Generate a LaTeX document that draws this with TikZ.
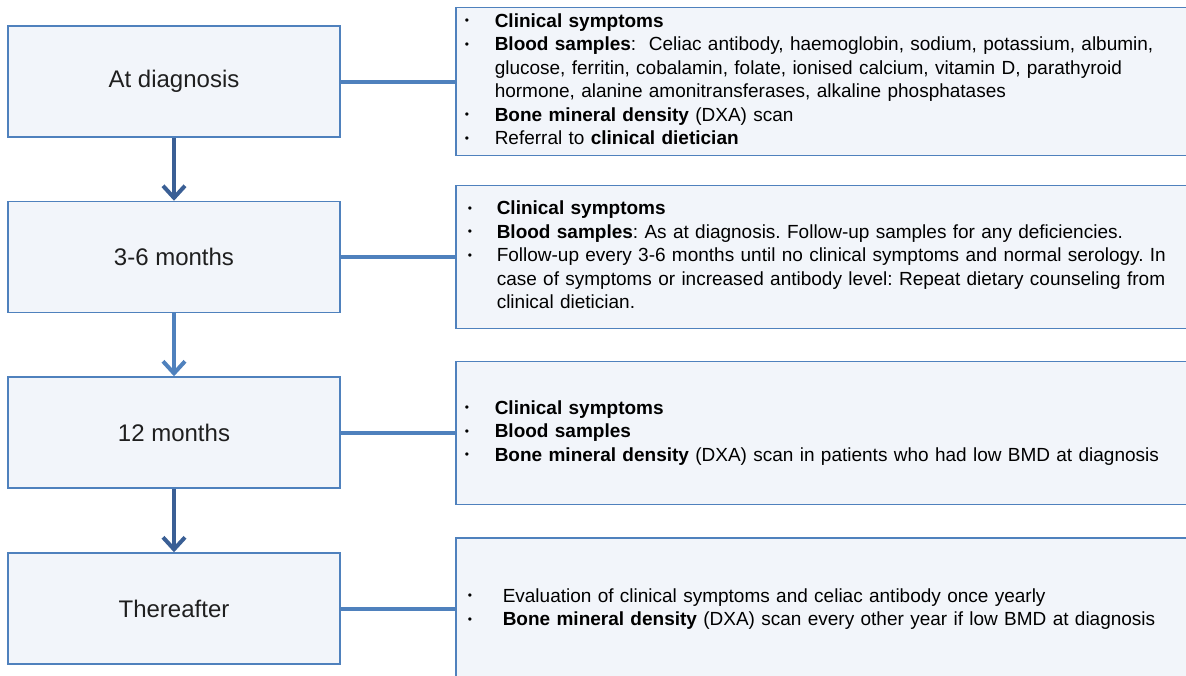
\documentclass[tikz,border=0pt]{standalone}
\usepackage{fontspec}
\setmainfont{Liberation Sans}
\usetikzlibrary{arrows.meta}
\definecolor{boxfill}{RGB}{242,245,250}
\definecolor{boxline}{RGB}{79,129,189}
\definecolor{darkarrow}{RGB}{58,95,149}
\newcommand{\bul}{\raisebox{2.5pt}{\fontsize{12}{12}\selectfont\textbullet}}
\frenchspacing
\tikzset{
	stage/.style={draw=boxline,fill=boxfill,line width=1.5pt,minimum width=332pt,minimum height=111pt,font=\fontsize{24}{28}\selectfont,text=black!88},
	detail/.style={draw=boxline,fill=boxfill,line width=1.5pt,anchor=west,text width=740pt,inner xsep=9pt,minimum height=143pt,align=left,font=\fontsize{19}{23.5}\selectfont},
	link/.style={draw=boxline,line width=4pt},
	flow/.style={line width=4pt,-{Straight Barb[length=12pt,width=22pt]}},
}
\begin{document}
\begin{tikzpicture}[x=1pt,y=-1pt]
	\useasboundingbox (0,0) rectangle (1186,675);
	\node[stage] (s1) at (174,81.5) {At diagnosis};
	\node[stage] (s2) at (174,257) {3-6 months};
	\node[stage] (s3) at (174,432.5) {12 months};
	\node[stage] (s4) at (174,608.5) {Thereafter};
	\node[detail] (d1) at (455,81.5) {\begin{tabular}{@{}p{30pt}@{}l@{}}
		\bul & \textbf{Clinical symptoms}\\
		\bul & \textbf{Blood samples}:\ \ Celiac antibody, haemoglobin, sodium, potassium, albumin,\\
		 & glucose, ferritin, cobalamin, folate, ionised calcium, vitamin D, parathyroid\\
		 & hormone, alanine amonitransferases, alkaline phosphatases\\
		\bul & \textbf{Bone mineral density} (DXA) scan\\
		\bul & Referral to \textbf{clinical dietician}
	\end{tabular}};
	\node[detail] (d2) at (455,257) {\begin{tabular}{@{}p{32pt}@{}l@{}}
		\hspace{3pt}\bul & \textbf{Clinical symptoms}\\
		\hspace{3pt}\bul & \textbf{Blood samples}: As at diagnosis. Follow-up samples for any deficiencies.\\
		\hspace{3pt}\bul & Follow-up every 3-6 months until no clinical symptoms and normal serology. In\\
		 & case of symptoms or increased antibody level: Repeat dietary counseling from\\
		 & clinical dietician.
	\end{tabular}};
	\node[detail] (d3) at (455,433) {\begin{tabular}{@{}p{30pt}@{}l@{}}
		\bul & \textbf{Clinical symptoms}\\
		\bul & \textbf{Blood samples}\\
		\bul & \textbf{Bone mineral density} (DXA) scan in patients who had low BMD at diagnosis
	\end{tabular}};
	\node[detail] (d4) at (455,609.5) {\begin{tabular}{@{}p{38pt}@{}l@{}}
		\hspace{3pt}\bul & Evaluation of clinical symptoms and celiac antibody once yearly\\
		\hspace{3pt}\bul & \textbf{Bone mineral density} (DXA) scan every other year if low BMD at diagnosis
	\end{tabular}};
	\draw[flow,darkarrow] (s1) -- (s2);
	\draw[flow,boxline] (s2) -- (s3);
	\draw[flow,darkarrow] (s3) -- (s4);
	\draw[link] (s1.east) -- (s1.east -| d1.west);
	\draw[link] (s2.east) -- (s2.east -| d2.west);
	\draw[link] (s3.east) -- (s3.east -| d3.west);
	\draw[link] (s4.east) -- (s4.east -| d4.west);
\end{tikzpicture}
\end{document}
